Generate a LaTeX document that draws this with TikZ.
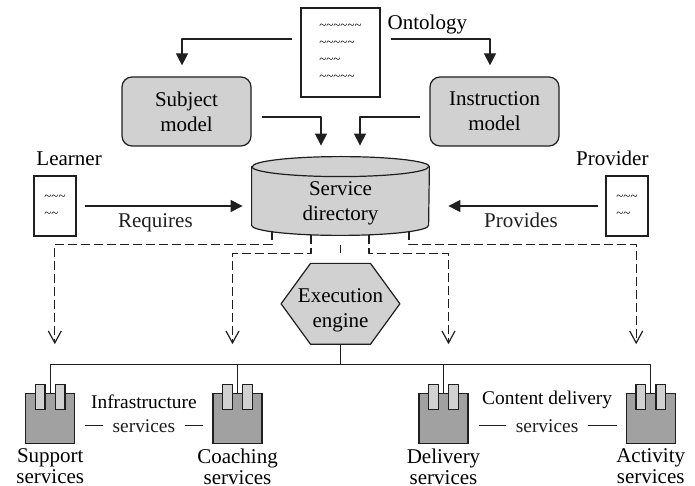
\documentclass[tikz,border=0pt]{standalone}
\usepackage{fontspec}
\setmainfont{Liberation Serif}
\usepackage{tikz}
\usetikzlibrary{arrows.meta, calc, positioning}
\usepackage{xcolor}
\definecolor{Ink}{gray}{0.12}
\definecolor{LiteGray}{gray}{0.82}
\definecolor{MidGray}{gray}{0.63}
\newcommand{\wave}{\textasciitilde}
\tikzset{%
  model_block/.style={%
    rectangle,%
    rounded corners=5pt,%
    draw=Ink,%
    fill=LiteGray,%
    line width=0.6pt,%
    minimum width=64.5pt,%
    minimum height=34.5pt,%
    font={\fontsize{10.5}{12.5}\selectfont},%
    align=center%
  },
  doc_block/.style={%
    rectangle,%
    draw=Ink,%
    fill=white,%
    line width=0.6pt,%
    font={\fontsize{6.5}{8.5}\selectfont},%
    align=left%
  },
  frame_block/.style={%
    rectangle,%
    inner sep=0pt,%
  },
  solid_shape/.style={%
    draw=Ink,%
    fill=LiteGray,%
    line width=0.6pt,%
    line join=round,%
  },
  service_block/.style={%
    rectangle,%
    draw=Ink,%
    fill=MidGray,%
    line width=0.6pt,%
    inner sep=0pt,%
    minimum width=24.5pt,%
    minimum height=25pt,%
  },
  peg/.style={%
    rectangle,%
    draw=Ink,%
    fill=LiteGray,%
    line width=0.6pt,%
    inner sep=0pt,%
    minimum width=4.75pt,%
    minimum height=12.5pt,%
  },
  smooth_path/.style={%
    color=Ink,%
    line join=round,%
    line width=0.6pt,%
  },
  dash_path/.style={%
    smooth_path,%
    dash pattern=on 4.5pt off 2pt,%
  },
  annotate/.style={%
    font={\fontsize{10.5}{12.5}\selectfont},%
    align=center,%
  },
  service_annotate/.style={%
    font={\fontsize{10.5}{10.5}\selectfont},%
    align=center,%
  },
  group_annotate/.style={%
    font={\fontsize{9.7}{11}\selectfont},%
    align=center,%
  },
  arrow/.style={-{Triangle[length=6pt, width=6pt]}},
  open_arrow/.style={-{Straight Barb[length=6pt, width=6.5pt]}},
}
\begin{document}
\begin{tikzpicture}[x=1pt, y=1pt]
    \useasboundingbox (-170.25, -142.5) rectangle (177.25, 100.5);

    % directory in the middle
    \node [frame_block, minimum width=88.5pt, minimum height=34pt] (Dir) at (0, 0) {};
    \path [solid_shape]
      (Dir.north west)
      --
      ([yshift=5pt]Dir.south west)
      arc [start angle=180, end angle=360, x radius=44.25pt, y radius=5pt]
      --
      (Dir.north east)
      arc [start angle=0, end angle=180, x radius=44.25pt, y radius=5pt]
      -- cycle;
    \draw [smooth_path]
      (Dir.north west)
      arc [start angle=180, end angle=360, x radius=44.25pt, y radius=5pt];
    \node [annotate, text depth=0pt] at (Dir) {Service\\directory};

    \node [model_block, above left = 10pt and 0pt of Dir] (Subject) {Subject\\model};
    \node [model_block, above right = 10pt and 0pt of Dir] (Instr) {Instruction\\model};
    \node [doc_block, minimum width=39.5pt, minimum height=44.5pt, above = 34.5pt of Dir] (Ont) {%
      \wave\wave\wave\wave\wave\wave\\
      \wave\wave\wave\wave\wave\\
      \wave\wave\wave\\
      \wave\wave\wave\wave\wave
    };
    \node [doc_block, minimum width=21pt, minimum height=30pt, left = 87.5pt of Dir, yshift=-2.5pt] (Learner) {%
      \wave\wave\wave\\
      \wave\wave
    };
    \node [doc_block, minimum width=21pt, minimum height=30pt, right = 88pt of Dir, yshift=-2.5pt] (Provider) {%
      \wave\wave\wave\\
      \wave\wave
    };

    \node [annotate, below right = 0pt and 0pt of Ont.north east] {Ontology};
    \node [annotate, above right = 1.5pt and -2pt of Learner.north west] {Learner};
    \node [annotate, above left = 1.5pt and -3.5pt of Provider.north east] {Provider};

    % engine
    \node [frame_block, minimum width=59pt, minimum height=40pt, below = 14pt of Dir] (Exec) {};
    \path [solid_shape]
      (Exec.west)
      --
      ([xshift=-15pt]Exec.north)
      --
      ([xshift=15pt]Exec.north)
      --
      (Exec.east)
      --
      ([xshift=15pt]Exec.south)
      --
      ([xshift=-15pt]Exec.south)
      -- cycle;
    \node [annotate, text depth=0pt, yshift=-2pt] at (Exec) {Execution\\engine};

    % services
    \node [service_block, below = 24.5pt of Exec, xshift=-51.5pt] (Coaching) {};
    \node [service_block, left = 68.5pt of Coaching] (Support) {};
    \node [service_block, below = 24.5pt of Exec, xshift=51.5pt] (Delivery) {};
    \node [service_block, right = 78.5pt of Delivery] (Activity) {};

    \node [service_annotate, below = -1.5pt of Support] {Support\\services};
    \node [service_annotate, below = -1.5pt of Coaching] {Coaching\\services};
    \node [service_annotate, below = -1.5pt of Delivery] {Delivery\\services};
    \node [service_annotate, below = -1.5pt of Activity] {Activity\\services};

    \draw [smooth_path]
      (Exec.south)
      --
      ++(0, -10pt) coordinate (bus);
    \draw [smooth_path] (bus) -| (Support.north);
    \draw [smooth_path] (bus) -| (Coaching.north);
    \draw [smooth_path] (bus) -| (Delivery.north);
    \draw [smooth_path] (bus) -| (Activity.north);

    \node [peg] at ([xshift=-5pt, yshift=-1.75pt]Support.north) {};
    \node [peg] at ([xshift=5pt, yshift=-1.75pt]Support.north) {};
    \node [peg] at ([xshift=-5pt, yshift=-1.75pt]Coaching.north) {};
    \node [peg] at ([xshift=5pt, yshift=-1.75pt]Coaching.north) {};
    \node [peg] at ([xshift=-5pt, yshift=-1.75pt]Delivery.north) {};
    \node [peg] at ([xshift=5pt, yshift=-1.75pt]Delivery.north) {};
    \node [peg] at ([xshift=-5pt, yshift=-1.75pt]Activity.north) {};
    \node [peg] at ([xshift=5pt, yshift=-1.75pt]Activity.north) {};

    \draw [smooth_path, shorten <=5pt, shorten >=4.5pt]
      ([yshift=-3.5pt]Support.east)
      --
      ([yshift=-3.5pt]Coaching.west)
      node [group_annotate, midway, fill=white, inner xsep=5pt] (InfraSvc) {services};
    \node [group_annotate, above = -2pt of InfraSvc] {Infrastructure};
    \draw [smooth_path, shorten <=5pt, shorten >=4.5pt]
      ([yshift=-3.5pt]Delivery.east)
      --
      ([yshift=-3.5pt]Activity.west)
      node [group_annotate, midway, fill=white, inner xsep=5pt] (ContentSvc) {services};
    \node [group_annotate, above = -2pt of ContentSvc] {Content delivery};

    % solid arrows
    \draw [arrow, smooth_path, shorten <=4pt, shorten >=5.5pt]
      ([yshift=6.75pt]Ont.west)
      -|
      ([xshift=-2.25pt]Subject.north);
    \draw [arrow, smooth_path, shorten <=5pt, shorten >=5.5pt]
      ([yshift=6.75pt]Ont.east)
      -|
      ([xshift=-2.25pt]Instr.north);
    \draw [arrow, smooth_path, shorten <=5pt, shorten >=10.5pt]
      ([yshift=-2.75pt]Subject.east)
      -|
      ([xshift=-9.75pt]Dir.north);
    \draw [arrow, smooth_path, shorten <=4.5pt, shorten >=10.5pt]
      ([yshift=-2.75pt]Instr.west)
      -|
      ([xshift=9.75pt]Dir.north);
    \draw [arrow, smooth_path, shorten <=4pt, shorten >=4.5pt]
      (Learner.east)
      --
      (Learner.east -| Dir.west)
      node [annotate, pos=0.45, below] {Requires};
    \draw [arrow, smooth_path, shorten <=3.5pt, shorten >=9.5pt]
      (Provider.west)
      --
      (Provider.west -| Dir.east)
      node [annotate, pos=0.48, below] {Provides};

    % dashed links
    \draw [dash_path, shorten <=5pt, shorten >=5pt]
      (Dir.south)
      --
      (Exec.north);
    \draw [open_arrow, dash_path, shorten >=24.5pt]
      ([xshift=-34.25pt, yshift=2pt]Dir.south)
      --
      ++(0, -6.5pt)
      -|
      ([xshift=2.25pt]Support.north);
    \draw [open_arrow, dash_path, shorten >=24.5pt]
      ([xshift=-14.75pt]Dir.south)
      --
      ++(0, -9pt)
      -|
      ([xshift=-2.5pt]Coaching.north);
    \draw [open_arrow, dash_path, shorten >=24.5pt]
      ([xshift=14.25pt]Dir.south)
      --
      ++(0, -9pt)
      -|
      ([xshift=2.5pt]Delivery.north);
    \draw [open_arrow, dash_path, shorten >=24.5pt]
      ([xshift=34.25pt, yshift=2pt]Dir.south)
      --
      ++(0, -6.5pt)
      -|
      ([xshift=-7.25pt]Activity.north);
  \end{tikzpicture}
\end{document}
